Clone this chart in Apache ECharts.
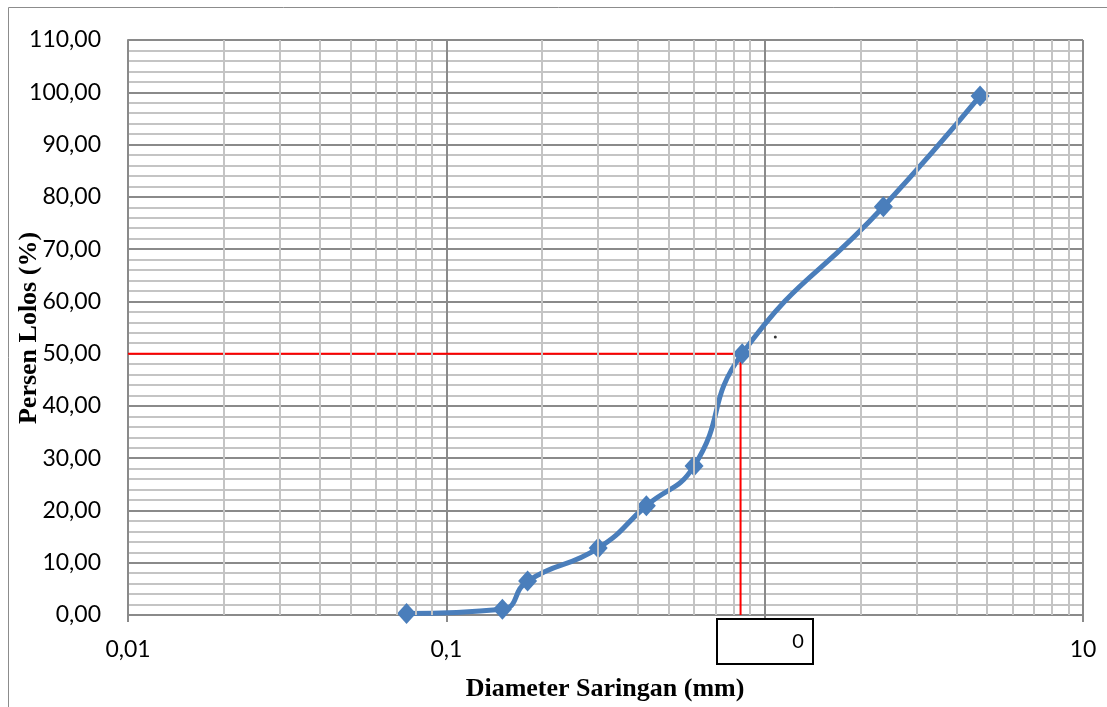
<!DOCTYPE html>
<html>
<head>
<meta charset="utf-8">
<title>Grafik Analisa Saringan</title>
<script src="https://cdn.jsdelivr.net/npm/echarts@6/dist/echarts.min.js"></script>
<style>
  html, body { margin: 0; padding: 0; background: #fff; }
  #chart { width: 1107px; height: 707px; }
</style>
</head>
<body>
<div id="chart"></div>
<script>
// Sieve openings (mm) and cumulative percent passing
const sieveSize = [0.075, 0.15, 0.18, 0.3, 0.425, 0.6, 0.85, 2.36, 4.75];
const percentPassing = [0.3, 1.1, 6.5, 12.8, 20.9, 28.5, 50.0, 78.1, 99.3];

// D50 reading: diameter where 50 % passes
const d50Size = 0.84;
const d50Percent = 50;

// Stray point mark on the chart
const strayDot = [[1.08, 53.2]];

// Minor vertical grid: 2..9 within each decade
const minorX = [];
[0.01, 0.1, 1].forEach(function (dec) {
  for (let k = 2; k <= 9; k++) minorX.push(+(dec * k).toPrecision(3));
});

const yMin = 0, yMax = 110, yStep = 10;
const xMin = 0.01, xMax = 10;

const majorColor = '#8a8a8a';
const minorColor = '#c4c4c4';
const lineBlue = '#4a7ebb';

function fmtComma(v, digits) {
  return v.toFixed(digits).replace('.', ',');
}

const chart = echarts.init(document.getElementById('chart'), null, { renderer: 'canvas' });

chart.setOption({
  backgroundColor: '#ffffff',
  animation: false,
  grid: { left: 128, right: 24, top: 40, bottom: 92, containLabel: false },
  xAxis: {
    type: 'log',
    logBase: 10,
    min: xMin,
    max: xMax,
    axisLine: { show: true, lineStyle: { color: majorColor, width: 2 } },
    axisTick: { show: true, length: 7, lineStyle: { color: majorColor, width: 2 } },
    axisLabel: {
      margin: 23,
      fontFamily: 'Lato',
      fontSize: 23,
      color: '#000',
      formatter: function (v) {
        if (v >= 1) return String(Math.round(v));
        return String(v).replace('.', ',');
      }
    },
    splitLine: { show: true, lineStyle: { color: majorColor, width: 2 } },
    minorTick: { show: false },
    minorSplitLine: { show: false }
  },
  yAxis: {
    type: 'value',
    min: yMin,
    max: yMax,
    interval: yStep,
    axisLine: { show: true, lineStyle: { color: majorColor, width: 2 } },
    axisTick: { show: false },
    axisLabel: {
      margin: 27,
      fontFamily: 'Lato',
      fontSize: 23,
      color: '#000',
      formatter: function (v) { return fmtComma(v, 2); }
    },
    splitLine: { show: true, lineStyle: { color: majorColor, width: 2 } },
    minorTick: { show: false, splitNumber: 5 },
    minorSplitLine: { show: true, lineStyle: { color: minorColor, width: 2 } }
  },
  series: [
    {
      // minor vertical grid lines on the log axis
      type: 'line',
      data: [],
      silent: true,
      z: 1,
      markLine: {
        silent: true,
        symbol: ['none', 'none'],
        label: { show: false },
        lineStyle: { color: minorColor, width: 2, type: 'solid' },
        data: minorX.map(function (v) { return { xAxis: v }; })
      }
    },
    {
      // D50 guide lines
      type: 'line',
      data: [[xMin, d50Percent], [d50Size, d50Percent], [d50Size, yMin]],
      symbol: 'none',
      silent: true,
      z: 3,
      lineStyle: { color: '#ff0000', width: 2 }
    },
    {
      type: 'line',
      name: 'Persen Lolos',
      data: sieveSize.map(function (s, i) { return [s, percentPassing[i]]; }),
      smooth: 0.5,
      symbol: 'diamond',
      symbolSize: [19, 21],
      z: 4,
      lineStyle: { color: lineBlue, width: 5 },
      itemStyle: { color: lineBlue }
    },
    {
      type: 'scatter',
      data: strayDot,
      symbol: 'circle',
      symbolSize: 3,
      silent: true,
      z: 4,
      itemStyle: { color: '#000' }
    }
  ],
  graphic: [
    {
      // chart frame
      type: 'rect',
      silent: true,
      z: 100,
      shape: { x: 8.5, y: 7.5, width: 1200, height: 800 },
      style: { fill: 'none', stroke: '#8c8c8c', lineWidth: 1 }
    },
    {
      type: 'text',
      z: 100,
      x: 29,
      y: 328,
      rotation: Math.PI / 2,
      style: {
        text: 'Persen Lolos (%)',
        fontFamily: 'Liberation Serif',
        fontWeight: 'bold',
        fontSize: 26,
        fill: '#000',
        textAlign: 'center',
        textVerticalAlign: 'middle'
      }
    },
    {
      type: 'text',
      z: 100,
      x: 605,
      y: 689,
      style: {
        text: 'Diameter Saringan (mm)',
        fontFamily: 'Liberation Serif',
        fontWeight: 'bold',
        fontSize: 26,
        fill: '#000',
        textAlign: 'center',
        textVerticalAlign: 'middle'
      }
    },
    {
      // text box below the axis
      type: 'rect',
      z: 100,
      shape: { x: 717, y: 619, width: 96, height: 45 },
      style: { fill: '#ffffff', stroke: '#000000', lineWidth: 2 }
    },
    {
      type: 'text',
      z: 101,
      x: 798,
      y: 642,
      style: {
        text: '0',
        fontFamily: 'Lato',
        fontSize: 20,
        fill: '#000',
        textAlign: 'center',
        textVerticalAlign: 'middle'
      }
    }
  ]
});
</script>
</body>
</html>
